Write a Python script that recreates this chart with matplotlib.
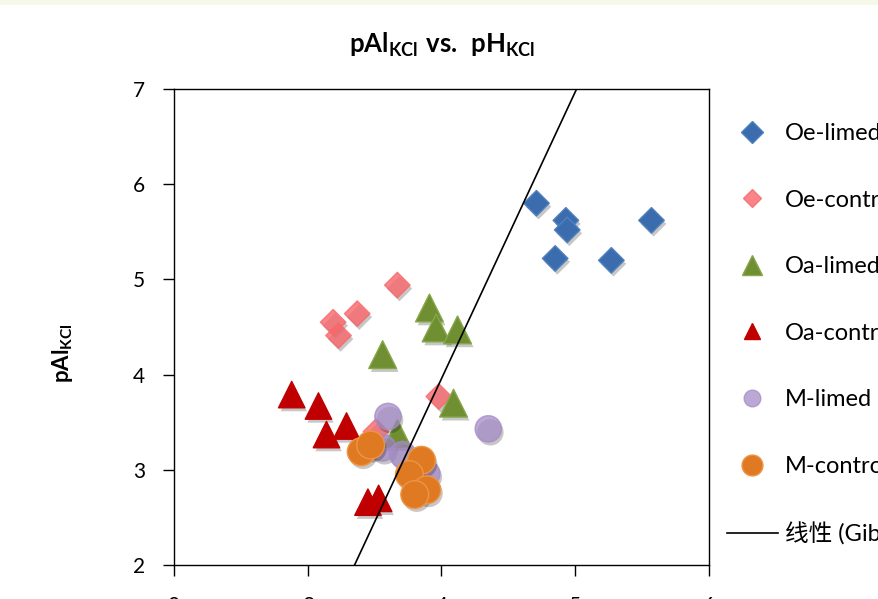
import matplotlib
matplotlib.use('Agg')
import matplotlib.pyplot as plt
import matplotlib.patheffects as pe
from matplotlib.lines import Line2D
from matplotlib.patches import Rectangle

plt.rcParams['font.family'] = ['Lato', 'Noto Sans CJK SC', 'DejaVu Sans']
plt.rcParams['mathtext.fontset'] = 'custom'
plt.rcParams['mathtext.rm'] = 'Lato'
plt.rcParams['mathtext.bf'] = 'Lato:bold'

# pH_KCl (x) and pAl_KCl (y) per group
oe_limed_ph = [4.71, 4.93, 4.94, 4.85, 5.27, 5.57]
oe_limed_pal = [5.80, 5.62, 5.52, 5.22, 5.20, 5.62]
oe_ctrl_ph = [3.67, 3.37, 3.19, 3.23, 3.98, 3.51]
oe_ctrl_pal = [4.94, 4.64, 4.55, 4.41, 3.77, 3.40]
oa_limed_ph = [3.91, 3.96, 4.12, 3.56, 4.09, 3.67]
oa_limed_pal = [4.70, 4.49, 4.47, 4.21, 3.70, 3.38]
oa_ctrl_ph = [2.88, 3.08, 3.29, 3.14, 3.45, 3.53]
oa_ctrl_pal = [3.79, 3.67, 3.46, 3.37, 2.66, 2.70]
m_limed_ph = [3.60, 4.35, 3.56, 3.71, 3.89]
m_limed_pal = [3.56, 3.43, 3.23, 3.16, 2.96]
m_ctrl_ph = [3.40, 3.47, 3.85, 3.76, 3.89, 3.80]
m_ctrl_pal = [3.19, 3.26, 3.10, 2.95, 2.79, 2.74]
gibbsite_ph = [3.35, 5.01]
gibbsite_pal = [2.0, 7.0]

fig = plt.figure(figsize=(8.79, 5.99), dpi=100)
ax = fig.add_axes([174 / 879, 1 - 565 / 599, 535 / 879, 476 / 599])

shadow = [pe.SimplePatchShadow(offset=(1.5, -2.5), shadow_rgbFace='k', alpha=0.22), pe.Normal()]

series = [
    (oe_limed_ph, oe_limed_pal, 'Oe-limed', 'D', 13, '#3B6CAE', '#4F81BD', 1.0, 11),
    (oe_ctrl_ph, oe_ctrl_pal, 'Oe-control', 'D', 13, '#F8676B', '#F8676B', 0.8, 9),
    (oa_limed_ph, oa_limed_pal, 'Oa-limed', '^', 20, '#6F8F32', '#86A84A', 1.0, 15),
    (oa_ctrl_ph, oa_ctrl_pal, 'Oa-control', '^', 19, '#C00000', '#C00000', 1.0, 12),
    (m_limed_ph, m_limed_pal, 'M-limed', 'o', 19, '#A58BC6', '#A58BC6', 0.75, 12),
    (m_ctrl_ph, m_ctrl_pal, 'M-control', 'o', 20, '#E07A22', '#EE9445', 1.0, 15),
]

handles = []
for xs, ys, name, mk, ms, fc, ec, al, lms in series:
    sc = ax.scatter(xs, ys, marker=mk, s=ms ** 2, c=fc, edgecolors=ec, linewidths=1.0, alpha=al)
    sc.set_path_effects(shadow)
    handles.append(Line2D([], [], ls='none', marker=mk, ms=lms, mfc=fc, mec=ec, alpha=al, label=name))

ln, = ax.plot(gibbsite_ph, gibbsite_pal, color='black', lw=1.2, label='线性 (Gibbsite)')
handles.append(ln)

ax.set_xlim(2, 6)
ax.set_ylim(2, 7)
ax.set_xticks([2, 3, 4, 5, 6])
ax.set_yticks([2, 3, 4, 5, 6, 7])
ax.tick_params(direction='out', length=8, width=1.0, labelsize=15, pad=13, top=False, right=False)
ax.tick_params(axis='x', pad=14.3)
for s in ax.spines.values():
    s.set_linewidth(1.0)

ax.set_title(r'$\mathbf{pAl_{KCl}\ vs.\ pH_{KCl}}$', fontsize=18.5, pad=26)
fig.text(63 / 879, 1 - 353 / 599, r'$\mathbf{pAl_{KCl}}$', rotation=90, fontsize=16,
         ha='center', va='center')

ax.legend(handles=handles, loc='upper left', bbox_to_anchor=(727 / 879, 1 - 123 / 599),
          bbox_transform=fig.transFigure, frameon=False, fontsize=17,
          handlelength=2.15, handletextpad=0.3, labelspacing=1.93, borderpad=0, borderaxespad=0)

# faint band along the top edge
fig.add_artist(Rectangle((0, 1 - 5 / 599), 1, 5 / 599, transform=fig.transFigure,
                         color='#F6F9E8', lw=0))

fig.savefig('out.png', dpi=100)
